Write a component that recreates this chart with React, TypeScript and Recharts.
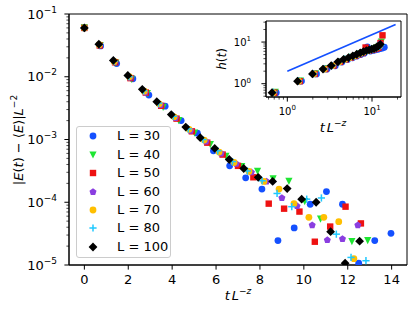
import React from 'react';
import { ScatterChart, Scatter, XAxis, YAxis, ReferenceArea } from 'recharts';

const FONT = '"DejaVu Sans", sans-serif';

// ---- data: x = t L^-z, e = |E(t) - <E>| L^-2, h = h(t) ----
const x30 = [0, 0.74, 1.47, 2.21, 2.94, 3.68, 4.41, 5.15, 5.88, 6.62, 7.35, 8.09, 8.82, 9.56, 10.29, 11.03, 11.76, 12.5, 13.23, 13.97];
const e30 = [6.0e-2, 3.1e-2, 1.62e-2, 9.3e-3, 5.1e-3, 3.4e-3, 2.0e-3, 1.26e-3, 6.6e-4, 3.8e-4, 2.45e-4, 1.62e-4, 2.45e-5, 3.9e-5, 9.3e-5, 1.48e-4, 9.3e-5, 1.07e-5, 2.45e-5, 3.2e-5];
const h30 = [null, 0.61, 1.16, 1.72, 2.24, 2.7, 3.3, 3.8, 4.2, 4.6, 5.0, 5.4, 7.6, 6.1, 6.3, 6.5, 6.7, 7.0, 7.2, 7.5];

const x40 = [0, 0.72, 1.43, 2.15, 2.87, 3.59, 4.3, 5.02, 5.74, 6.45, 7.17, 7.89, 8.6, 9.32, 10.04, 10.76, 11.47, 12.19, 12.91];
const e40 = [6.0e-2, 3.15e-2, 1.65e-2, 9.1e-3, 5.4e-3, 3.25e-3, 2.0e-3, 1.26e-3, 8.3e-4, 5.4e-4, 3.7e-4, 3.1e-4, 2.35e-4, 2.15e-4, 1.02e-4, 5.4e-5, null, 2.35e-5, 2.45e-5];
const h40 = [null, 0.62, 1.16, 1.73, 2.26, 2.73, 3.36, 3.86, 4.27, 4.68, 5.12, 5.5, 5.95, 6.3, 6.6, 6.9, 7.3, 7.9, 10.0];

const x50 = [0, 0.7, 1.4, 2.1, 2.8, 3.5, 4.2, 4.9, 5.6, 6.3, 7.0, 7.7, 8.4, 9.1, 9.8, 10.5, 11.2, 11.9, 12.6, 13.3];
const e50 = [6.0e-2, 3.15e-2, 1.7e-2, 9.5e-3, 5.6e-3, 3.45e-3, 2.15e-3, 1.35e-3, 8.9e-4, 5.75e-4, 3.8e-4, 2.5e-4, 9.5e-5, 7.9e-5, 7.1e-5, 2.35e-5, 4.1e-5, 8.5e-5, 4.6e-5, null];
const h50 = [null, 0.61, 1.15, 1.72, 2.25, 2.72, 3.34, 3.84, 4.24, 4.64, 5.08, 5.45, 7.4, 6.2, 6.45, 6.7, 6.95, 7.3, 9.5, 14.5];

const x60 = [0, 0.69, 1.38, 2.08, 2.77, 3.46, 4.15, 4.84, 5.54, 6.23, 6.92, 7.61, 8.3, 9.0, 9.69, 10.38, 11.07, 11.76, 12.46];
const e60 = [6.0e-2, 3.2e-2, 1.72e-2, 9.7e-3, 5.6e-3, 3.55e-3, 2.2e-3, 1.38e-3, 9.3e-4, 6.0e-4, 4.1e-4, 3.0e-4, 2.15e-4, 1.17e-4, 8.7e-5, 4.3e-5, 2.5e-5, 2.6e-5, 4.3e-5];
const h60 = [null, 0.62, 1.15, 1.72, 2.26, 2.73, 3.35, 3.86, 4.26, 4.66, 5.1, 5.5, 5.9, 6.3, 6.55, 6.8, 7.1, 7.6, 9.0];

const x70 = [0, 0.68, 1.36, 2.05, 2.73, 3.41, 4.09, 4.77, 5.46, 6.14, 6.82, 7.5, 8.18, 8.87, 9.55, 10.23, 10.91, 11.59, 12.28];
const e70 = [6.0e-2, 3.25e-2, 1.75e-2, 1.0e-2, 5.9e-3, 3.7e-3, 2.3e-3, 1.45e-3, 9.8e-4, 6.3e-4, 4.3e-4, 3.1e-4, 2.15e-4, 1.62e-4, 9.5e-5, 5.75e-5, 5.75e-5, 4.9e-5, 1.26e-5];
const h70 = [null, 0.61, 1.15, 1.73, 2.25, 2.72, 3.35, 3.85, 4.25, 4.65, 5.1, 5.5, 5.9, 6.25, 6.5, 6.8, 7.1, 7.5, 8.2];

const x80 = [0, 0.68, 1.35, 2.03, 2.7, 3.38, 4.05, 4.73, 5.4, 6.08, 6.75, 7.43, 8.1, 8.78, 9.45, 10.13, 10.8, 11.48, 12.15, 12.83];
const e80 = [6.0e-2, 3.25e-2, 1.78e-2, 1.0e-2, 6.0e-3, 3.8e-3, 2.35e-3, 1.48e-3, 1.0e-3, 6.6e-4, 4.45e-4, 3.15e-4, 2.2e-4, 1.38e-4, 8.5e-5, 1.12e-4, 1.17e-4, 3.1e-5, 1.32e-5, 1.17e-5];
const h80 = [null, 0.62, 1.16, 1.73, 2.26, 2.73, 3.36, 3.86, 4.26, 4.66, 5.1, 5.5, 5.9, 6.25, 6.5, 6.75, 7.0, 7.4, 7.9, 8.5];

const x100 = [0, 0.66, 1.32, 1.98, 2.64, 3.3, 3.96, 4.62, 5.28, 5.94, 6.6, 7.26, 7.92, 8.58, 9.24, 9.9, 10.56, 11.22, 11.88, 12.54];
const e100 = [6.0e-2, 3.3e-2, 1.82e-2, 1.05e-2, 6.3e-3, 4.0e-3, 2.5e-3, 1.58e-3, 1.07e-3, 7.2e-4, 4.8e-4, 3.45e-4, 2.5e-4, 2.15e-4, 1.65e-4, 1.12e-4, 1.0e-4, 3.4e-5, 1.07e-5, 2.4e-5];
const h100 = [null, 0.61, 1.15, 1.72, 2.25, 2.72, 3.35, 3.85, 4.25, 4.65, 5.1, 5.5, 5.9, 6.25, 6.5, 6.75, 7.0, 7.4, 8.0, 8.8];

// reference power-law line in the inset
const refLineX = [1, 19];
const refLineH = [2.0, 26.5];

const seriesNames = ['L = 30', 'L = 40', 'L = 50', 'L = 60', 'L = 70', 'L = 80', 'L = 100'];

// ticks
const xTicks = [0, 2, 4, 6, 8, 10, 12, 14];
const yMajor = [1e-5, 1e-4, 1e-3, 1e-2, 1e-1];
const minorMult = [2, 3, 4, 5, 6, 7, 8, 9];
const insetXMajor = [1, 10];
const insetXMinor = [0.6, 0.7, 0.8, 0.9, 2, 3, 4, 5, 6, 7, 8, 9, 20];
const insetYMajor = [1, 10];
const insetYMinor = [0.5, 0.6, 0.7, 0.8, 0.9, 2, 3, 4, 5, 6, 7, 8, 9, 20, 30];

const yTicks = [...yMajor, ...yMajor.slice(0, 4).flatMap((d) => minorMult.map((m) => m * d))];
const insetXTicks = [...insetXMajor, ...insetXMinor];
const insetYTicks = [...insetYMajor, ...insetYMinor];

type MarkerKind = 'circle' | 'tri' | 'square' | 'pent' | 'plus' | 'diamond';

const series = [
  { name: seriesNames[0], xs: x30, es: e30, hs: h30, color: '#1450ff', marker: 'circle' as MarkerKind },
  { name: seriesNames[1], xs: x40, es: e40, hs: h40, color: '#1ee632', marker: 'tri' as MarkerKind },
  { name: seriesNames[2], xs: x50, es: e50, hs: h50, color: '#ee1111', marker: 'square' as MarkerKind },
  { name: seriesNames[3], xs: x60, es: e60, hs: h60, color: '#8a3ee0', marker: 'pent' as MarkerKind },
  { name: seriesNames[4], xs: x70, es: e70, hs: h70, color: '#ffbf00', marker: 'circle' as MarkerKind },
  { name: seriesNames[5], xs: x80, es: e80, hs: h80, color: '#1ec8ff', marker: 'plus' as MarkerKind },
  { name: seriesNames[6], xs: x100, es: e100, hs: h100, color: '#000000', marker: 'diamond' as MarkerKind },
];

function drawMarker(kind: MarkerKind, cx: number, cy: number, color: string) {
  if (cx == null || cy == null || isNaN(cx) || isNaN(cy)) return <g />;
  switch (kind) {
    case 'circle':
      return <circle cx={cx} cy={cy} r={3.4} fill={color} />;
    case 'tri': {
      const s = 3.6;
      return <polygon points={`${cx - s},${cy - s} ${cx + s},${cy - s} ${cx},${cy + s}`} fill={color} />;
    }
    case 'square':
      return <rect x={cx - 3.2} y={cy - 3.2} width={6.4} height={6.4} fill={color} />;
    case 'pent': {
      const r = 3.7;
      const pts = [0, 1, 2, 3, 4]
        .map((k) => {
          const a = -Math.PI / 2 + (k * 2 * Math.PI) / 5;
          return `${cx + r * Math.cos(a)},${cy + r * Math.sin(a)}`;
        })
        .join(' ');
      return <polygon points={pts} fill={color} />;
    }
    case 'plus':
      return (
        <g stroke={color} strokeWidth={1.5}>
          <line x1={cx - 3.6} x2={cx + 3.6} y1={cy} y2={cy} />
          <line x1={cx} x2={cx} y1={cy - 3.6} y2={cy + 3.6} />
        </g>
      );
    case 'diamond': {
      const d = 4.4;
      return <polygon points={`${cx},${cy - d} ${cx + d},${cy} ${cx},${cy + d} ${cx - d},${cy}`} fill={color} />;
    }
  }
  return <g />;
}

const sup = (n: number) => (n < 0 ? '\u2212' + Math.abs(n) : String(n));

function isMajor(v: number) {
  const lg = Math.log10(v);
  return Math.abs(lg - Math.round(lg)) < 1e-6;
}

function MainYTick(props: any) {
  const { x, y, payload } = props;
  const v = payload.value;
  const major = isMajor(v);
  const e = Math.round(Math.log10(v));
  return (
    <g>
      <line x1={x} x2={x - (major ? 4.6 : 2.6)} y1={y} y2={y} stroke="#000" strokeWidth={major ? 1 : 0.7} />
      {major && (
        <text x={x - 12} y={y} dy="0.36em" textAnchor="end" fontSize={13} fontFamily={FONT} fill="#000">
          10
          <tspan dy={-6} fontSize={9}>{sup(e)}</tspan>
        </text>
      )}
    </g>
  );
}

function MainXTick(props: any) {
  const { x, y, payload } = props;
  return (
    <g>
      <line x1={x} x2={x} y1={y} y2={y + 4.6} stroke="#000" strokeWidth={1} />
      <text x={x} y={y + 9.2} dy="0.74em" textAnchor="middle" fontSize={13} fontFamily={FONT} fill="#000">
        {payload.value}
      </text>
    </g>
  );
}

function InsetXTick(props: any) {
  const { x, y, payload } = props;
  const v = payload.value;
  const major = isMajor(v);
  const e = Math.round(Math.log10(v));
  return (
    <g>
      <line x1={x} x2={x} y1={y} y2={y + (major ? 4.6 : 2.6)} stroke="#000" strokeWidth={major ? 1 : 0.7} />
      {major && (
        <text x={x} y={y + 17.5} textAnchor="middle" fontSize={10} fontFamily={FONT} fill="#000">
          10
          <tspan dy={-4.5} fontSize={7}>{sup(e)}</tspan>
        </text>
      )}
    </g>
  );
}

function InsetYTick(props: any) {
  const { x, y, payload } = props;
  const v = payload.value;
  const major = isMajor(v);
  const e = Math.round(Math.log10(v));
  return (
    <g>
      <line x1={x} x2={x - (major ? 4.6 : 2.6)} y1={y} y2={y} stroke="#000" strokeWidth={major ? 1 : 0.7} />
      {major && (
        <text x={x - 15} y={y} dy="0.36em" textAnchor="end" fontSize={10} fontFamily={FONT} fill="#000">
          10
          <tspan dy={-4.5} fontSize={7}>{sup(e)}</tspan>
        </text>
      )}
    </g>
  );
}

const mainData = series.map((s) =>
  s.xs.map((x, i) => ({ x, y: s.es[i] })).filter((d) => d.y != null) as { x: number; y: number }[]
);
const insetData = series.map((s) =>
  s.xs.map((x, i) => ({ x, y: s.hs[i] })).filter((d) => d.y != null && d.x > 0) as { x: number; y: number }[]
);
const refLineData = refLineX.map((x, i) => ({ x, y: refLineH[i] }));

export default function App() {
  return (
    <div style={{ position: 'absolute', left: 0, top: 0, width: 416, height: 313, background: '#fff' }}>
      <div style={{ position: 'absolute', left: 0, top: 0 }}>
        <ScatterChart width={416} height={313} margin={{ top: 14, right: 9, bottom: 0, left: 0 }}>
          <XAxis
            type="number"
            dataKey="x"
            domain={[-0.7, 14.7]}
            ticks={xTicks}
            interval={0}
            allowDataOverflow
            tickSize={0}
            tickMargin={0}
            tickLine={false}
            tick={(p: any) => <MainXTick {...p} />}
            axisLine={{ stroke: '#000' }}
            height={48}
          />
          <YAxis
            type="number"
            dataKey="y"
            scale="log"
            domain={[1e-5, 0.1]}
            ticks={yTicks}
            interval={0}
            allowDataOverflow
            tickSize={0}
            tickMargin={0}
            tickLine={false}
            tick={(p: any) => <MainYTick {...p} />}
            axisLine={{ stroke: '#000' }}
            width={69}
          />
          <ReferenceArea x1={-0.7} x2={14.7} y1={1e-5} y2={0.1} fill="none" stroke="#000" strokeWidth={1} />
          {series.map((s, k) => (
            <Scatter
              key={s.name}
              name={s.name}
              data={mainData[k]}
              isAnimationActive={false}
              shape={(p: any) => drawMarker(s.marker, p.cx, p.cy, s.color)}
            />
          ))}
        </ScatterChart>
      </div>

      {/* legend */}
      <div
        style={{
          position: 'absolute',
          left: 76,
          top: 126,
          width: 95,
          height: 132,
          border: '1px solid #cccccc',
          borderRadius: 3,
          background: 'rgba(255,255,255,0.8)',
          boxSizing: 'border-box',
        }}
      >
        {series.map((s, i) => (
          <div key={s.name} style={{ position: 'absolute', left: 0, top: 0.3 + i * 18.4, height: 18, width: 93 }}>
            <svg width={18} height={18} style={{ position: 'absolute', left: 7, top: 0 }}>
              {drawMarker(s.marker, 9, 9, s.color)}
            </svg>
            <span
              style={{
                position: 'absolute',
                left: 40,
                top: 0,
                lineHeight: '18px',
                fontSize: 13,
                fontFamily: FONT,
                color: '#000',
                whiteSpace: 'nowrap',
              }}
            >
              {s.name}
            </span>
          </div>
        ))}
      </div>

      {/* inset background */}
      <div style={{ position: 'absolute', left: 266, top: 21, width: 135, height: 76, background: '#fff' }} />
      <div style={{ position: 'absolute', left: 200, top: 10 }}>
        <ScatterChart width={210} height={125} margin={{ top: 11, right: 9, bottom: 0, left: 0 }}>
          <XAxis
            type="number"
            dataKey="x"
            scale="log"
            domain={[0.56, 22]}
            ticks={insetXTicks}
            interval={0}
            allowDataOverflow
            tickSize={0}
            tickMargin={0}
            tickLine={false}
            tick={(p: any) => <InsetXTick {...p} />}
            axisLine={{ stroke: '#000' }}
            height={38}
          />
          <YAxis
            type="number"
            dataKey="y"
            scale="log"
            domain={[0.48, 32]}
            ticks={insetYTicks}
            interval={0}
            allowDataOverflow
            tickSize={0}
            tickMargin={0}
            tickLine={false}
            tick={(p: any) => <InsetYTick {...p} />}
            axisLine={{ stroke: '#000' }}
            width={66}
          />
          <ReferenceArea x1={0.56} x2={22} y1={0.48} y2={32} fill="none" stroke="#000" strokeWidth={1} />
          <Scatter
            data={refLineData}
            isAnimationActive={false}
            line={{ stroke: '#1450ff', strokeWidth: 1.7 }}
            shape={() => <g />}
          />
          {series.map((s, k) => (
            <Scatter
              key={s.name}
              name={s.name}
              data={insetData[k]}
              isAnimationActive={false}
              shape={(p: any) => drawMarker(s.marker, p.cx, p.cy, s.color)}
            />
          ))}
        </ScatterChart>
      </div>

      {/* axis titles */}
      <svg width={416} height={313} style={{ position: 'absolute', left: 0, top: 0, pointerEvents: 'none' }}>
        <text
          transform="translate(23,140) rotate(-90)"
          textAnchor="middle"
          fontSize={13}
          fontFamily={FONT}
          fill="#000"
        >
          |<tspan fontStyle="italic">E</tspan>(<tspan fontStyle="italic">t</tspan>) − {'\u27E8'}
          <tspan fontStyle="italic">E</tspan>
          {'\u27E9'}|<tspan fontStyle="italic">L</tspan>
          <tspan dy={-6} fontSize={9}>−2</tspan>
        </text>
        <text x={238} y={300} textAnchor="middle" fontSize={13} fontFamily={FONT} fill="#000">
          <tspan fontStyle="italic">t</tspan>
          <tspan dx={2} fontStyle="italic">L</tspan>
          <tspan dy={-6} fontSize={9}>−</tspan>
          <tspan fontSize={9} fontStyle="italic">z</tspan>
        </text>
        <text
          transform="translate(226,59) rotate(-90)"
          textAnchor="middle"
          fontSize={12}
          fontFamily={FONT}
          fill="#000"
        >
          <tspan fontStyle="italic">h</tspan>(<tspan fontStyle="italic">t</tspan>)
        </text>
        <text x={333} y={132} textAnchor="middle" fontSize={13} fontFamily={FONT} fill="#000">
          <tspan fontStyle="italic">t</tspan>
          <tspan dx={2} fontStyle="italic">L</tspan>
          <tspan dy={-6} fontSize={9}>−</tspan>
          <tspan fontSize={9} fontStyle="italic">z</tspan>
        </text>
      </svg>
    </div>
  );
}
